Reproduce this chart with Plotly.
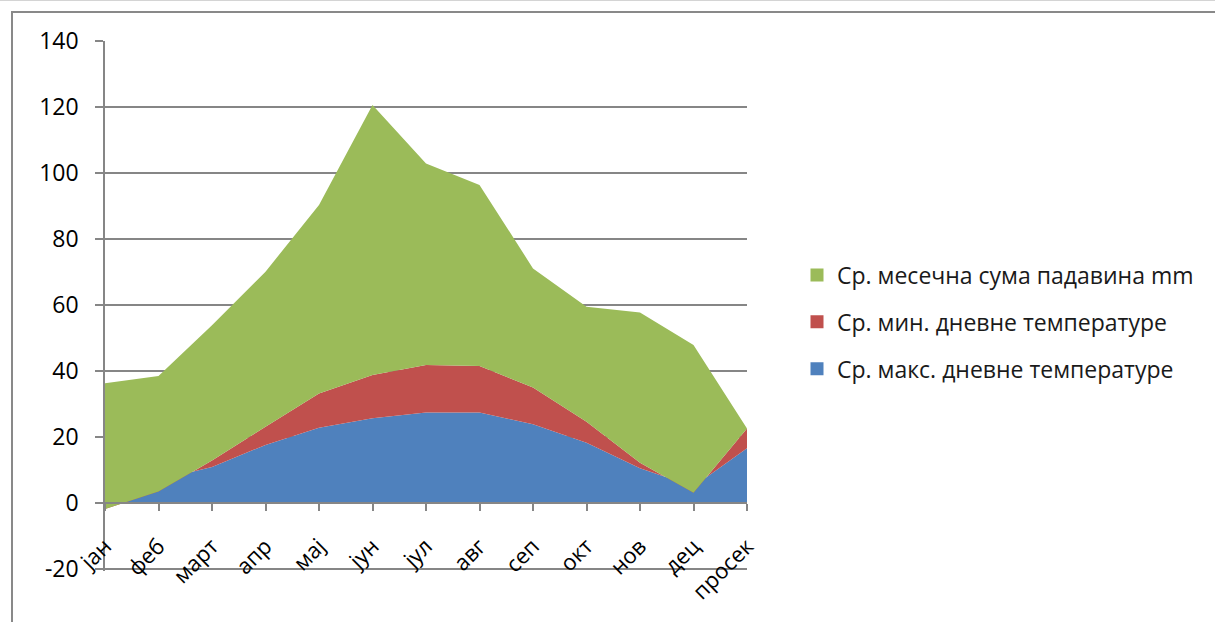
import plotly.graph_objects as go

categories = ["јан", "феб", "март", "апр", "мај", "јун", "јул", "авг", "сеп", "окт", "нов", "дец", "просек"]
max_temp = [3.5, 7.0, 10.9, 17.6, 22.8, 25.7, 27.4, 27.4, 23.9, 18.3, 10.5, 5.0, 16.6]
min_temp = [-5.3, -3.5, 2.0, 5.5, 10.4, 13.1, 14.4, 14.1, 11.1, 6.3, 1.7, -1.9, 6.0]
precip = [38.1, 35.0, 41.0, 47.0, 57.1, 81.8, 61.1, 54.9, 36.1, 34.9, 45.5, 44.8, 0.0]
y_ticks = [-20, 0, 20, 40, 60, 80, 100, 120, 140]
y_tick_labels = ["-20", "0", "20", "40", "60", "80", "100", "120", "140"]

names = ["Ср. макс. дневне температуре", "Ср. мин. дневне температуре", "Ср. месечна сума падавина mm"]
colors = ["#4F81BD", "#C0504D", "#9BBB59"]
series = [max_temp, min_temp, precip]

W, H = 1215, 622
Y_LO, Y_HI = -20.6, 140
L, R, T, B = 105, 747, 41, 571
FONT = "Open Sans"

x = list(range(len(categories)))
fig = go.Figure()
for vals, name, col in zip(series, names, colors):
    fig.add_trace(go.Scatter(
        x=x, y=vals, name=name, stackgroup="one", mode="none",
        fillcolor=col, line=dict(width=0), showlegend=False, hoverinfo="y"))

# legend entries (square swatches), top to bottom: green, red, blue
for i in [2, 1, 0]:
    fig.add_trace(go.Scatter(
        x=[None], y=[None], mode="markers", name=names[i], legendgroup=names[i],
        marker=dict(symbol="square", size=13, color=colors[i]), showlegend=True))

def px_x(p):
    return (p - L) / (R - L)

def px_y(p):
    return (B - p) / (B - T)

grid = "#868686"
fig.update_layout(
    width=W, height=H,
    margin=dict(l=L, r=W - R, t=T, b=H - B, autoexpand=False),
    paper_bgcolor="white", plot_bgcolor="white",
    font=dict(family=FONT, color="#000000"),
    showlegend=True,
    legend=dict(x=px_x(797), xanchor="left", y=px_y(322), yanchor="middle",
                font=dict(size=23, color="#1a1a1a"), tracegroupgap=14,
                bgcolor="rgba(0,0,0,0)", itemwidth=30),
    xaxis=dict(range=[0, 12], tickmode="array", tickvals=x, ticktext=categories,
               anchor="free", position=(0 - Y_LO) / (Y_HI - Y_LO), showline=True,
               linecolor=grid, linewidth=1.5,
               ticks="outside", ticklen=7, tickcolor=grid, tickwidth=1.5,
               showgrid=False, zeroline=False, tickangle=-45,
               tickfont=dict(size=22, family=FONT), ticklabelstandoff=14),
    yaxis=dict(range=[Y_LO, Y_HI], tickmode="array", tickvals=y_ticks, ticktext=y_tick_labels,
               showgrid=True, gridcolor=grid, gridwidth=1.5,
               showline=True, linecolor=grid, linewidth=1.5, ticks="outside", ticklen=8,
               tickcolor=grid, tickwidth=1.5, zeroline=False,
               tickfont=dict(size=23, family=FONT), ticklabelstandoff=12),
    shapes=[
        dict(type="line", xref="paper", yref="paper", x0=px_x(0), x1=px_x(W), y0=px_y(0.5), y1=px_y(0.5),
             line=dict(color="#d4d4d4", width=1)),
        dict(type="line", xref="paper", yref="paper", x0=px_x(11), x1=px_x(W), y0=px_y(12), y1=px_y(12),
             line=dict(color="#898989", width=2)),
        dict(type="line", xref="paper", yref="paper", x0=px_x(12), x1=px_x(12), y0=px_y(11), y1=px_y(H),
             line=dict(color="#898989", width=2)),
    ],
)

fig.write_html("out.html", config={"displayModeBar": False},
               post_script="document.body.style.margin='0px';")
